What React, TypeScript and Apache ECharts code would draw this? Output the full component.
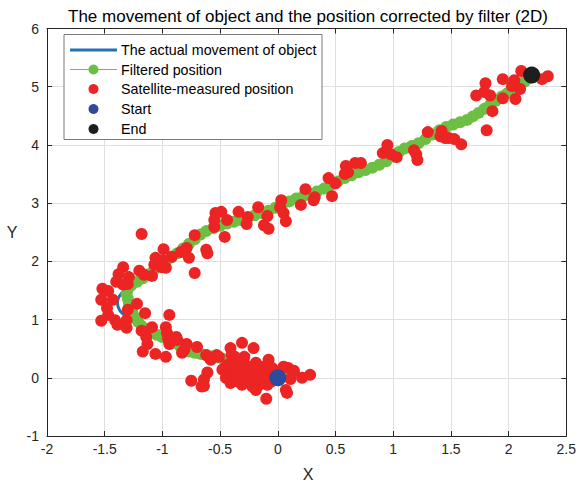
import React, { useEffect, useRef } from "react";
import * as echarts from "echarts";

const titleText = "The movement of object and the position corrected by filter (2D)";
const xTicks = { min: -2, max: 2.5, interval: 0.5 };
const yTicks = { min: -1, max: 6, interval: 1 };
const legendLabels = [
  "The actual movement of object",
  "Filtered position",
  "Satellite-measured position",
  "Start",
  "End",
];

const startPoint: number[][] = [[0, 0]];
const endPoint: number[][] = [[2.2, 5.2]];

const actualPath: number[][] = [
  [0, 0], [-0.3, 0.18], [-0.6, 0.38], [-0.8, 0.48], [-1.0, 0.68], [-1.15, 0.83],
  [-1.28, 1.0], [-1.37, 1.16], [-1.39, 1.3], [-1.35, 1.46], [-1.25, 1.62],
  [-1.0, 1.95], [-0.75, 2.33], [-0.6, 2.52], [-0.4, 2.66], [0, 2.95], [0.5, 3.32],
  [0.9, 3.66], [1.1, 3.92], [1.5, 4.33], [1.7, 4.48], [2.0, 4.92], [2.2, 5.2],
];

const filteredPath: number[][] = [
  [0.12, 0.08], [0.08, 0.1], [0.03, 0.11], [-0.02, 0.12], [-0.07, 0.13], [-0.12, 0.14],
  [-0.17, 0.15], [-0.22, 0.17], [-0.27, 0.19], [-0.32, 0.22], [-0.37, 0.25], [-0.42, 0.29],
  [-0.47, 0.32], [-0.52, 0.35], [-0.57, 0.37], [-0.62, 0.39], [-0.67, 0.41], [-0.72, 0.43],
  [-0.77, 0.45], [-0.81, 0.5], [-0.85, 0.55], [-0.9, 0.6], [-0.95, 0.65], [-1.0, 0.7],
  [-1.05, 0.74], [-1.1, 0.79], [-1.14, 0.83], [-1.18, 0.89], [-1.21, 0.96], [-1.24, 1.04],
  [-1.26, 1.12], [-1.28, 1.2], [-1.29, 1.28], [-1.3, 1.36], [-1.31, 1.44],
  [-1.3, 1.52], [-1.27, 1.59], [-1.22, 1.65], [-1.17, 1.71], [-1.12, 1.78], [-1.07, 1.86],
  [-1.02, 1.93], [-0.97, 2.0], [-0.92, 2.07], [-0.87, 2.14], [-0.82, 2.22], [-0.77, 2.3],
  [-0.72, 2.38], [-0.67, 2.46], [-0.62, 2.52], [-0.56, 2.57], [-0.5, 2.61], [-0.44, 2.65],
  [-0.38, 2.68], [-0.32, 2.71], [-0.26, 2.75], [-0.2, 2.79], [-0.14, 2.83], [-0.08, 2.87],
  [-0.02, 2.92], [0.04, 2.98], [0.1, 3.03], [0.16, 3.08], [0.22, 3.12], [0.28, 3.16],
  [0.34, 3.2], [0.4, 3.25], [0.46, 3.31], [0.52, 3.37], [0.58, 3.43], [0.64, 3.48],
  [0.7, 3.53], [0.76, 3.57], [0.82, 3.61], [0.88, 3.66], [0.94, 3.72], [1.0, 3.8],
  [1.05, 3.88], [1.1, 3.94], [1.16, 3.98], [1.22, 4.03], [1.28, 4.1], [1.34, 4.18],
  [1.4, 4.25], [1.46, 4.31], [1.52, 4.35], [1.58, 4.39], [1.64, 4.43], [1.69, 4.49],
  [1.74, 4.55], [1.79, 4.62], [1.84, 4.69], [1.89, 4.76], [1.94, 4.83], [1.99, 4.89],
  [2.04, 4.95], [2.09, 5.02], [2.14, 5.09], [2.18, 5.15], [2.21, 5.2],
];

const measuredUpper: number[][] = [
  [2.11, 5.27], [2.34, 5.18], [2.29, 5.13], [1.95, 5.13], [2.05, 5.11], [1.8, 5.06],
  [2.03, 5.01], [2.1, 4.96], [1.79, 4.91], [1.72, 4.85], [1.84, 4.85], [1.95, 4.8],
  [2.06, 4.79], [1.86, 4.58], [1.81, 4.25], [1.3, 4.22], [1.42, 4.24], [1.41, 4.15],
  [1.45, 4.12], [1.48, 4.12], [1.53, 4.1], [1.59, 4.01], [0.95, 4.0], [0.91, 3.86],
  [0.98, 3.84], [1.03, 3.79], [1.18, 3.91], [1.2, 3.84], [1.21, 3.74],
  [0.67, 3.69], [0.72, 3.69], [0.59, 3.64], [0.61, 3.53], [0.58, 3.5], [0.44, 3.43],
  [0.5, 3.34], [0.24, 3.24],
];

const measuredMiddle: number[][] = [
  [0.47, 3.12], [0.32, 3.1], [0.31, 3.05], [0.2, 2.97], [0.03, 3.05], [0.02, 2.93],
  [0.05, 2.83], [0.07, 2.69], [-0.17, 2.93], [-0.09, 2.78], [-0.12, 2.62], [-0.08, 2.56],
  [-0.26, 2.76], [-0.27, 2.64], [-0.34, 2.85], [-0.44, 2.71], [-0.49, 2.85], [-0.54, 2.83],
  [-0.55, 2.71], [-0.55, 2.59], [-0.46, 2.42], [-0.62, 2.2], [-0.61, 2.14], [-0.72, 2.45],
  [-1.18, 2.47], [-0.99, 2.21], [-0.79, 2.23], [-0.84, 2.16], [-0.77, 2.06], [-1.06, 2.06],
  [-1.0, 2.02], [-0.92, 2.08], [-1.07, 1.94], [-1.01, 1.9], [-0.97, 1.89], [-0.72, 1.8],
  [-1.2, 1.84], [-1.16, 1.77], [-1.09, 1.75], [-1.34, 1.9], [-1.38, 1.78], [-1.29, 1.73],
  [-1.4, 1.65], [-1.34, 1.6], [-1.3, 1.61], [-1.52, 1.53], [-1.47, 1.49], [-1.53, 1.34],
  [-1.43, 1.34], [-1.48, 1.2], [-1.47, 1.08], [-1.22, 1.27], [-1.3, 1.17], [-1.15, 1.11],
  [-0.94, 1.08], [-1.53, 0.98], [-1.41, 0.99], [-1.39, 0.91], [-1.31, 0.99], [-1.31, 0.86],
];

const measuredLower: number[][] = [
  [-1.18, 0.81], [-1.09, 0.87], [-0.97, 0.87], [-1.14, 0.7], [-0.96, 0.77], [-0.95, 0.67],
  [-0.88, 0.7], [-1.13, 0.58], [-0.94, 0.58], [-0.79, 0.58], [-1.17, 0.45], [-1.06, 0.41],
  [-0.97, 0.36], [-0.7, 0.53], [-0.62, 0.39], [-0.53, 0.39], [-0.41, 0.51], [-0.31, 0.6],
  [-0.21, 0.51], [-0.83, 0.43], [-0.4, 0.39], [-0.87, 0.65], [-0.81, 0.48], [-0.75, -0.05],
  [-0.64, -0.03], [-0.64, -0.14], [-0.61, 0.09], [-0.59, 0.34], [-0.51, 0.36], [-0.47, 0.15],
  [-0.42, 0.09], [-0.45, 0.0], [-0.41, -0.09], [-0.38, 0.26], [-0.34, 0.31], [-0.29, 0.36],
  [-0.28, 0.22], [-0.35, 0.14], [-0.34, -0.07], [-0.27, 0.02], [-0.25, 0.1], [-0.21, 0.05],
  [-0.31, -0.12], [-0.22, -0.15], [-0.19, -0.21], [-0.18, 0.0], [-0.15, 0.1], [-0.1, 0.05],
  [-0.09, -0.12], [-0.08, 0.31], [-0.12, 0.19], [-0.05, 0.17], [0.05, 0.19], [0.09, 0.17],
  [0.11, -0.02], [0.07, -0.21], [0.08, -0.26], [-0.1, -0.36], [0.21, 0.0], [0.28, 0.05],
  [-0.19, 0.26], [-0.4, 0.19], [-0.16, -0.12], [-0.06, -0.07], [-0.14, 0.09], [-0.4, -0.03],
  [-0.66, -0.15], [-0.37, 0.36], [-0.48, 0.14], [-0.58, 0.31], [-0.3, 0.05], [-0.24, -0.04],
  [-0.02, 0.1], [0.14, 0.12], [-0.44, 0.22], [-0.13, -0.03], [-0.2, 0.15], [-0.36, 0.03],
];

const measured = [...measuredUpper, ...measuredMiddle, ...measuredLower];

const FONT = "Arial, 'Liberation Sans', sans-serif";
const AX = "#262626";
const RED = "#ec2424";
const GREEN = "#6cbf42";
const BLUE_LINE = "#2472b5";
const BLUE_DOT = "#2d4a9c";
const BLACK_DOT = "#1e1e1e";

export default function App() {
  const ref = useRef<HTMLDivElement>(null);
  useEffect(() => {
    document.body.style.margin = "0";
    const chart = echarts.init(ref.current!, null, { renderer: "svg" });
    const axisCommon = {
      type: "value",
      axisLine: { show: true, onZero: false, lineStyle: { color: AX, width: 1 } },
      axisTick: { show: true, inside: true, length: 5, lineStyle: { color: AX } },
    };
    const legendX0 = 64;
    const rowY = [50, 69.5, 89, 109, 129];
    const legendGraphics: any[] = [
      {
        type: "rect",
        shape: { x: legendX0, y: 34.5, width: 258, height: 105 },
        style: { fill: "#fff", stroke: "#7a7a7a", lineWidth: 1 },
        z: 100,
      },
      {
        type: "line",
        shape: { x1: 70, y1: rowY[0], x2: 117, y2: rowY[0] },
        style: { stroke: BLUE_LINE, lineWidth: 3 },
        z: 101,
      },
      {
        type: "line",
        shape: { x1: 70, y1: rowY[1], x2: 117, y2: rowY[1] },
        style: { stroke: GREEN, lineWidth: 1.2 },
        z: 101,
      },
      { type: "circle", shape: { cx: 93.5, cy: rowY[1], r: 5 }, style: { fill: GREEN }, z: 102 },
      { type: "circle", shape: { cx: 93.5, cy: rowY[2], r: 5 }, style: { fill: RED }, z: 102 },
      { type: "circle", shape: { cx: 93.5, cy: rowY[3], r: 5 }, style: { fill: BLUE_DOT }, z: 102 },
      { type: "circle", shape: { cx: 93.5, cy: rowY[4], r: 5 }, style: { fill: BLACK_DOT }, z: 102 },
      ...legendLabels.map((t, i) => ({
        type: "text",
        x: 121,
        y: rowY[i],
        style: {
          text: t,
          fontSize: 14.3,
          fontFamily: FONT,
          fill: "#000",
          textVerticalAlign: "middle",
          textAlign: "left",
        },
        z: 102,
      })),
    ];
    chart.setOption({
      animation: false,
      backgroundColor: "#fff",
      grid: { left: 47, right: 10.5, top: 28.5, bottom: 48, containLabel: false },
      xAxis: [
        {
          ...axisCommon,
          position: "bottom",
          min: xTicks.min,
          max: xTicks.max,
          interval: xTicks.interval,
          axisLabel: { color: AX, fontSize: 14, fontFamily: FONT, margin: 6 },
          splitLine: { show: true, lineStyle: { color: "#dfdfdf", width: 1 } },
        },
        {
          ...axisCommon,
          position: "top",
          min: xTicks.min,
          max: xTicks.max,
          interval: xTicks.interval,
          axisLabel: { show: false },
          splitLine: { show: false },
        },
      ],
      yAxis: [
        {
          ...axisCommon,
          position: "left",
          min: yTicks.min,
          max: yTicks.max,
          interval: yTicks.interval,
          axisLabel: { color: AX, fontSize: 14, fontFamily: FONT, margin: 8 },
          splitLine: { show: true, lineStyle: { color: "#dfdfdf", width: 1 } },
        },
        {
          ...axisCommon,
          position: "right",
          min: yTicks.min,
          max: yTicks.max,
          interval: yTicks.interval,
          axisLabel: { show: false },
          splitLine: { show: false },
        },
      ],
      graphic: [
        {
          type: "text",
          x: 308,
          y: 16,
          style: {
            text: titleText,
            fontSize: 17,
            fontFamily: FONT,
            fill: "#000",
            textAlign: "center",
            textVerticalAlign: "middle",
          },
        },
        {
          type: "text",
          x: 308,
          y: 474,
          style: {
            text: "X",
            fontSize: 16,
            fontFamily: FONT,
            fill: AX,
            textAlign: "center",
            textVerticalAlign: "middle",
          },
        },
        {
          type: "text",
          x: 12,
          y: 232,
          style: {
            text: "Y",
            fontSize: 16,
            fontFamily: FONT,
            fill: AX,
            textAlign: "center",
            textVerticalAlign: "middle",
          },
        },
        ...legendGraphics,
      ],
      series: [
        {
          name: legendLabels[0],
          type: "line",
          data: actualPath,
          smooth: 0.3,
          showSymbol: false,
          symbol: "none",
          lineStyle: { color: BLUE_LINE, width: 3 },
          z: 2,
        },
        {
          name: legendLabels[1],
          type: "line",
          data: filteredPath,
          symbol: "circle",
          symbolSize: 12,
          showSymbol: true,
          itemStyle: { color: GREEN, opacity: 1 },
          lineStyle: { color: GREEN, width: 1 },
          z: 3,
        },
        {
          name: legendLabels[2],
          type: "scatter",
          data: measured,
          symbol: "circle",
          symbolSize: 12,
          itemStyle: { color: RED, opacity: 1 },
          z: 4,
        },
        {
          name: legendLabels[3],
          type: "scatter",
          data: startPoint,
          symbol: "circle",
          symbolSize: 17,
          itemStyle: { color: BLUE_DOT, opacity: 1 },
          z: 5,
        },
        {
          name: legendLabels[4],
          type: "scatter",
          data: endPoint,
          symbol: "circle",
          symbolSize: 17,
          itemStyle: { color: BLACK_DOT, opacity: 1 },
          z: 5,
        },
      ],
    });
    return () => chart.dispose();
  }, []);
  return <div ref={ref} style={{ width: 579, height: 484 }} />;
}
